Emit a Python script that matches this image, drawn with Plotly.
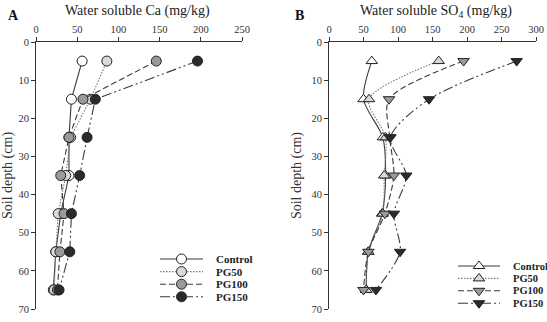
import plotly.graph_objects as go

depth = [5, 15, 25, 35, 45, 55, 65]
series_names = ["Control", "PG50", "PG100", "PG150"]

ca_control = [56, 43, 40, 40, 30, 24, 21]
ca_pg50 = [86, 66, 42, 36, 27, 24, 22]
ca_pg100 = [146, 57, 40, 30, 34, 29, 26]
ca_pg150 = [196, 72, 62, 53, 43, 41, 28]

so4_control = [62, 50, 78, 82, 77, 57, 54]
so4_pg50 = [159, 58, 82, 80, 78, 57, 54]
so4_pg100 = [195, 87, 88, 94, 81, 57, 50]
so4_pg150 = [272, 145, 89, 112, 94, 103, 68]

fills = ["#ffffff", "#d9d9d9", "#9a9a9a", "#2b2b2b"]
dashes = ["solid", "1.5px,1.5px", "6px,3px", "10px,3px,2px,3px,2px,3px"]
line_cols = ["#3a3a3a", "#777777", "#3a3a3a", "#3a3a3a"]
FONT = "Liberation Serif, Times New Roman, serif"
W, H = 547, 322

fig = go.Figure()
ca = [ca_control, ca_pg50, ca_pg100, ca_pg150]
so4 = [so4_control, so4_pg50, so4_pg100, so4_pg150]
circ = ["circle"] * 4
tri = ["triangle-up", "triangle-up", "triangle-down", "triangle-down"]

for i, name in enumerate(series_names):
    fig.add_trace(go.Scatter(
        x=ca[i], y=depth, name=name, mode="lines+markers", showlegend=False,
        line=dict(color=line_cols[i], width=1.1, dash=dashes[i]),
        marker=dict(symbol=circ[i], size=10, color=fills[i],
                    line=dict(color="#222", width=1)),
        xaxis="x", yaxis="y"))
for i, name in enumerate(series_names):
    fig.add_trace(go.Scatter(
        x=so4[i], y=depth, name=name, mode="lines+markers", showlegend=False,
        line=dict(color=line_cols[i], width=1.1, dash=dashes[i], shape="spline", smoothing=0.8),
        marker=dict(symbol=tri[i], size=10, color=fills[i],
                    line=dict(color="#222", width=1)),
        xaxis="x2", yaxis="y2"))

# custom compact legends on a pixel overlay axis
legends = [
    dict(x0=160, x1=203, top=259, step=12.6, symbols=circ, tx=214, fs=11),
    dict(x0=458, x1=500, top=266, step=12.4, symbols=tri, tx=511, fs=10.5),
]
annotations = []
for lg in legends:
    for i, name in enumerate(series_names):
        yy = lg["top"] + i * lg["step"]
        xm = (lg["x0"] + lg["x1"]) / 2
        fig.add_trace(go.Scatter(
            x=[lg["x0"], xm, lg["x1"]], y=[yy, yy, yy], mode="lines", showlegend=False,
            line=dict(color=line_cols[i], width=1.1, dash=dashes[i]),
            hoverinfo="skip", xaxis="x3", yaxis="y3"))
        fig.add_trace(go.Scatter(
            x=[xm], y=[yy], mode="markers", showlegend=False,
            marker=dict(symbol=lg["symbols"][i], size=10, color=fills[i],
                        line=dict(color="#222", width=1)),
            hoverinfo="skip", xaxis="x3", yaxis="y3"))
        annotations.append(dict(
            text="<b>%s</b>" % name, x=lg["tx"], y=yy, xref="x3", yref="y3",
            showarrow=False, xanchor="left", yanchor="middle",
            font=dict(family=FONT, size=lg["fs"], color="#222")))

ydom = [1 - 309 / H, 1 - 42 / H]
axcommon = dict(showgrid=False, zeroline=False, showline=True, linecolor="#333",
                linewidth=1, ticks="outside", ticklen=4, tickcolor="#333",
                automargin=False,
                tickfont=dict(family=FONT, size=10.5, color="#333"))
ytitle = dict(text="Soil depth (cm)", font=dict(family=FONT, size=14, color="#333"), standoff=6)
fig.update_layout(
    width=W, height=H, margin=dict(l=0, r=0, t=0, b=0),
    plot_bgcolor="rgba(0,0,0,0)", paper_bgcolor="white",
    font=dict(family=FONT, color="#222"),
    showlegend=False,
    xaxis=dict(domain=[36 / W, 242 / W], range=[0, 250], side="top",
               anchor="y", dtick=50, **axcommon),
    yaxis=dict(domain=ydom, range=[70, 0], anchor="x", dtick=10, title=ytitle, **axcommon),
    xaxis2=dict(domain=[329 / W, 536 / W], range=[0, 300], side="top",
                anchor="y2", dtick=50, **axcommon),
    yaxis2=dict(domain=ydom, range=[70, 0], anchor="x2", dtick=10, title=ytitle, **axcommon),
    xaxis3=dict(domain=[0, 1], range=[0, W], visible=False, anchor="y3", fixedrange=True,
                automargin=False),
    yaxis3=dict(domain=[0, 1], range=[H, 0], visible=False, anchor="x3", fixedrange=True,
                automargin=False),
    annotations=annotations + [
        dict(text="<b>A</b>", x=6 / W, y=1 - 15 / H, xref="paper", yref="paper",
             showarrow=False, xanchor="left", yanchor="middle",
             font=dict(family=FONT, size=14, color="#111")),
        dict(text="<b>B</b>", x=293 / W, y=1 - 15 / H, xref="paper", yref="paper",
             showarrow=False, xanchor="left", yanchor="middle",
             font=dict(family=FONT, size=14, color="#111")),
        dict(text="Water soluble Ca (mg/kg)", x=137 / W, y=1 - 11 / H, xref="paper",
             yref="paper", showarrow=False, xanchor="center", yanchor="middle",
             font=dict(family=FONT, size=14, color="#222")),
        dict(text="Water soluble SO<sub>4</sub> (mg/kg)", x=436 / W, y=1 - 11 / H,
             xref="paper", yref="paper", showarrow=False, xanchor="center",
             yanchor="middle", font=dict(family=FONT, size=14, color="#222")),
    ],
)
fig.write_html("out.html")
